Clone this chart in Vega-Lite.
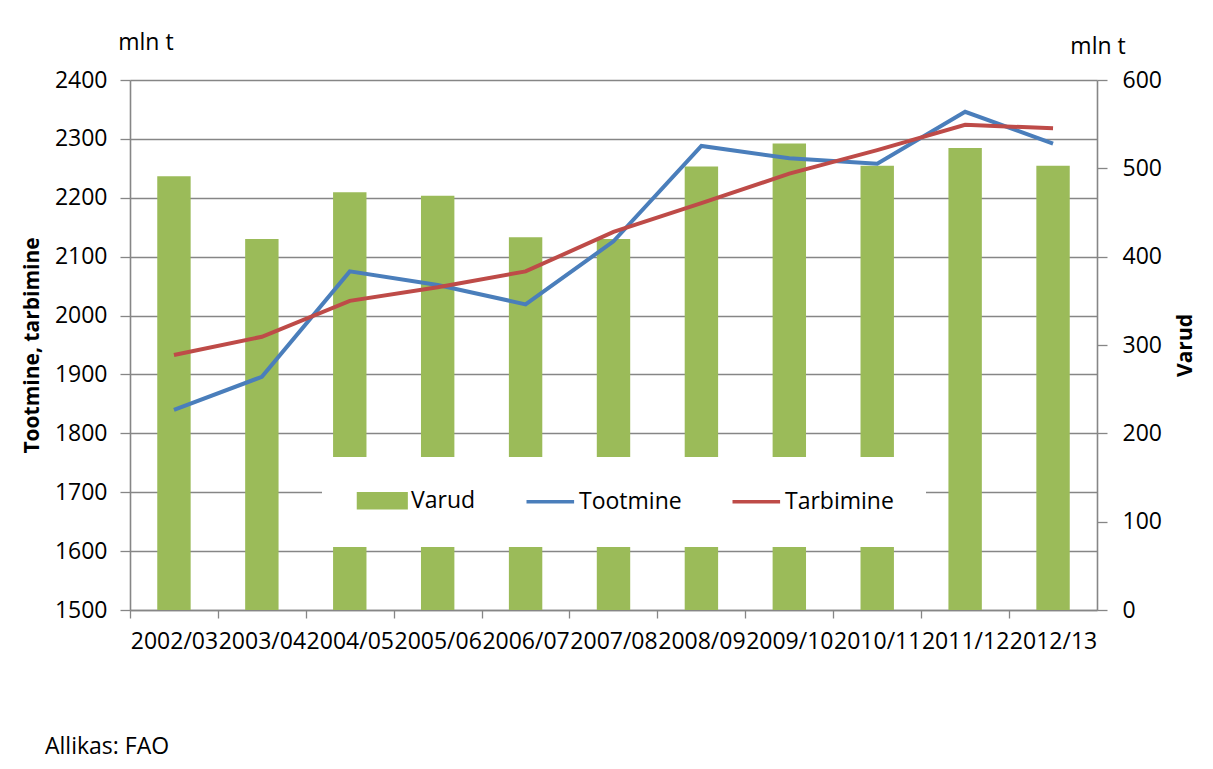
{
  "$schema": "https://vega.github.io/schema/vega-lite/v6.json",
  "width": 967,
  "height": 530,
  "autosize": {"type": "none"},
  "padding": {"left": 130, "top": 80, "right": 116, "bottom": 159},
  "background": "white",
  "config": {
    "font": "Open Sans",
    "view": {"stroke": null}
  },
  "title": {
    "text": "Allikas: FAO",
    "orient": "bottom",
    "anchor": "start",
    "frame": "group",
    "dx": -85,
    "offset": 83,
    "font": "Open Sans",
    "fontSize": 23,
    "fontWeight": "normal",
    "color": "#000000"
  },
  "datasets": {
    "stocks": [
      {"cat": "2002/03", "series": "Varud", "value": 491},
      {"cat": "2003/04", "series": "Varud", "value": 420},
      {"cat": "2004/05", "series": "Varud", "value": 473},
      {"cat": "2005/06", "series": "Varud", "value": 469},
      {"cat": "2006/07", "series": "Varud", "value": 422},
      {"cat": "2007/08", "series": "Varud", "value": 420},
      {"cat": "2008/09", "series": "Varud", "value": 502},
      {"cat": "2009/10", "series": "Varud", "value": 528},
      {"cat": "2010/11", "series": "Varud", "value": 503},
      {"cat": "2011/12", "series": "Varud", "value": 523},
      {"cat": "2012/13", "series": "Varud", "value": 503}
    ],
    "flows": [
      {"cat": "2002/03", "series": "Tootmine", "value": 1840},
      {"cat": "2003/04", "series": "Tootmine", "value": 1896},
      {"cat": "2004/05", "series": "Tootmine", "value": 2075},
      {"cat": "2005/06", "series": "Tootmine", "value": 2052},
      {"cat": "2006/07", "series": "Tootmine", "value": 2019},
      {"cat": "2007/08", "series": "Tootmine", "value": 2126},
      {"cat": "2008/09", "series": "Tootmine", "value": 2288},
      {"cat": "2009/10", "series": "Tootmine", "value": 2267},
      {"cat": "2010/11", "series": "Tootmine", "value": 2258},
      {"cat": "2011/12", "series": "Tootmine", "value": 2346},
      {"cat": "2012/13", "series": "Tootmine", "value": 2292},
      {"cat": "2002/03", "series": "Tarbimine", "value": 1933},
      {"cat": "2003/04", "series": "Tarbimine", "value": 1964},
      {"cat": "2004/05", "series": "Tarbimine", "value": 2025},
      {"cat": "2005/06", "series": "Tarbimine", "value": 2048},
      {"cat": "2006/07", "series": "Tarbimine", "value": 2075},
      {"cat": "2007/08", "series": "Tarbimine", "value": 2142},
      {"cat": "2008/09", "series": "Tarbimine", "value": 2191},
      {"cat": "2009/10", "series": "Tarbimine", "value": 2241},
      {"cat": "2010/11", "series": "Tarbimine", "value": 2281},
      {"cat": "2011/12", "series": "Tarbimine", "value": 2324},
      {"cat": "2012/13", "series": "Tarbimine", "value": 2318}
    ],
    "unitLeft": [{"cat": "2002/03", "label": "mln t", "v": 2463}],
    "unitRight": [{"cat": "2012/13", "label": "mln t", "v": 637}]
  },
  "layer": [
    {
      "data": {"name": "stocks"},
      "mark": {"type": "bar"},
      "encoding": {
        "x": {
          "field": "cat", "type": "nominal", "sort": null,
          "scale": {"domain": ["2002/03","2003/04","2004/05","2005/06","2006/07","2007/08","2008/09","2009/10","2010/11","2011/12","2012/13"], "paddingInner": 0.62, "paddingOuter": 0.31},
          "axis": {
            "title": null, "labelAngle": 0, "labelOverlap": false,
            "labelFont": "Open Sans", "labelFontSize": 23, "labelColor": "#000000",
            "labelPadding": 12, "tickSize": 8, "tickWidth": 1.3, "tickColor": "#868686",
            "tickOffset": -44, "labelOffset": 44,
            "domainColor": "#868686", "domainWidth": 1.6, "grid": false
          }
        },
        "y": {
          "field": "value", "type": "quantitative",
          "scale": {"domain": [0, 600], "nice": false},
          "axis": {
            "orient": "right", "title": "Varud", "format": "d",
            "titleFont": "Open Sans", "titleFontSize": 21, "titleFontWeight": "bold", "titleColor": "#000000",
            "titleAngle": 270, "titleX": 88, "titleY": 265, "titleAlign": "center", "titleBaseline": "middle",
            "values": [0, 100, 200, 300, 400, 500, 600],
            "grid": false, "labelFont": "Open Sans", "labelFontSize": 23, "labelColor": "#000000",
            "labelPadding": 15, "tickSize": 10, "tickWidth": 1.3, "tickColor": "#868686",
            "domainColor": "#868686", "domainWidth": 1.6
          }
        },
        "color": {
          "field": "series", "type": "nominal",
          "scale": {"domain": ["Varud", "Tootmine", "Tarbimine"], "range": ["#9BBB59", "#4A7EBB", "#BE4B48"]},
          "legend": {
            "title": null, "orient": "none", "legendX": 192, "legendY": 377,
            "direction": "horizontal", "fillColor": "white",
            "padding": 32, "columnPadding": 43, "labelOffset": 34,
            "labelFont": "Open Sans", "labelFontSize": 23, "labelColor": "#000000",
            "symbolSize": 196,
            "encode": {
              "symbols": {
                "update": {
                  "shape": {"signal": "datum.value === 'Varud' ? 'M-1,-1H5.8V1H-1Z' : 'M-1,0H5.8'"},
                  "fill": {"signal": "datum.value === 'Varud' ? '#9BBB59' : 'transparent'"},
                  "stroke": {"signal": "datum.value === 'Varud' ? 'transparent' : (datum.value === 'Tootmine' ? '#4A7EBB' : '#BE4B48')"},
                  "strokeWidth": {"value": 3.5},
                  "opacity": {"value": 1}
                }
              }
            }
          }
        }
      }
    },
    {
      "data": {"name": "flows"},
      "mark": {"type": "line", "strokeWidth": 4},
      "encoding": {
        "x": {
          "field": "cat", "type": "nominal", "sort": null,
          "scale": {"domain": ["2002/03","2003/04","2004/05","2005/06","2006/07","2007/08","2008/09","2009/10","2010/11","2011/12","2012/13"], "paddingInner": 0.62, "paddingOuter": 0.31},
          "axis": {
            "title": null, "labelAngle": 0, "labelOverlap": false,
            "labelFont": "Open Sans", "labelFontSize": 23, "labelColor": "#000000",
            "labelPadding": 12, "tickSize": 8, "tickWidth": 1.3, "tickColor": "#868686",
            "tickOffset": -44, "labelOffset": 44,
            "domainColor": "#868686", "domainWidth": 1.6, "grid": false
          }
        },
        "y": {
          "field": "value", "type": "quantitative",
          "scale": {"domain": [1500, 2400], "nice": false, "zero": false},
          "axis": {
            "orient": "left", "title": "Tootmine, tarbimine", "format": "d",
            "titleFont": "Open Sans", "titleFontSize": 21, "titleFontWeight": "bold", "titleColor": "#000000",
            "titleAngle": 270, "titleX": -98, "titleY": 265, "titleAlign": "center", "titleBaseline": "middle",
            "values": [1500, 1600, 1700, 1800, 1900, 2000, 2100, 2200, 2300, 2400],
            "grid": true, "gridColor": "#868686", "gridWidth": 1.3,
            "labelFont": "Open Sans", "labelFontSize": 23, "labelColor": "#000000",
            "labelPadding": 13, "tickSize": 10, "tickWidth": 1.3, "tickColor": "#868686",
            "domainColor": "#868686", "domainWidth": 1.6
          }
        },
        "color": {"field": "series", "type": "nominal"}
      }
    },
    {
      "data": {"name": "unitRight"},
      "mark": {"type": "text", "dx": 45, "fontSize": 23, "font": "Open Sans", "color": "#000000", "baseline": "middle", "align": "center"},
      "encoding": {
        "x": {
          "field": "cat", "type": "nominal", "sort": null,
          "scale": {"domain": ["2002/03","2003/04","2004/05","2005/06","2006/07","2007/08","2008/09","2009/10","2010/11","2011/12","2012/13"], "paddingInner": 0.62, "paddingOuter": 0.31},
          "axis": {
            "title": null, "labelAngle": 0, "labelOverlap": false,
            "labelFont": "Open Sans", "labelFontSize": 23, "labelColor": "#000000",
            "labelPadding": 12, "tickSize": 8, "tickWidth": 1.3, "tickColor": "#868686",
            "tickOffset": -44, "labelOffset": 44,
            "domainColor": "#868686", "domainWidth": 1.6, "grid": false
          }
        },
        "y": {"field": "v", "type": "quantitative", "scale": {"domain": [0, 600], "nice": false}, "axis": null},
        "text": {"field": "label"}
      }
    },
    {
      "data": {"name": "unitLeft"},
      "mark": {"type": "text", "dx": -28, "fontSize": 23, "font": "Open Sans", "color": "#000000", "baseline": "middle", "align": "center"},
      "encoding": {
        "x": {
          "field": "cat", "type": "nominal", "sort": null,
          "scale": {"domain": ["2002/03","2003/04","2004/05","2005/06","2006/07","2007/08","2008/09","2009/10","2010/11","2011/12","2012/13"], "paddingInner": 0.62, "paddingOuter": 0.31},
          "axis": {
            "title": null, "labelAngle": 0, "labelOverlap": false,
            "labelFont": "Open Sans", "labelFontSize": 23, "labelColor": "#000000",
            "labelPadding": 12, "tickSize": 8, "tickWidth": 1.3, "tickColor": "#868686",
            "tickOffset": -44, "labelOffset": 44,
            "domainColor": "#868686", "domainWidth": 1.6, "grid": false
          }
        },
        "y": {"field": "v", "type": "quantitative", "scale": {"domain": [1500, 2400], "nice": false, "zero": false}, "axis": null},
        "text": {"field": "label"}
      }
    }
  ],
  "resolve": {"scale": {"y": "independent"}}
}
